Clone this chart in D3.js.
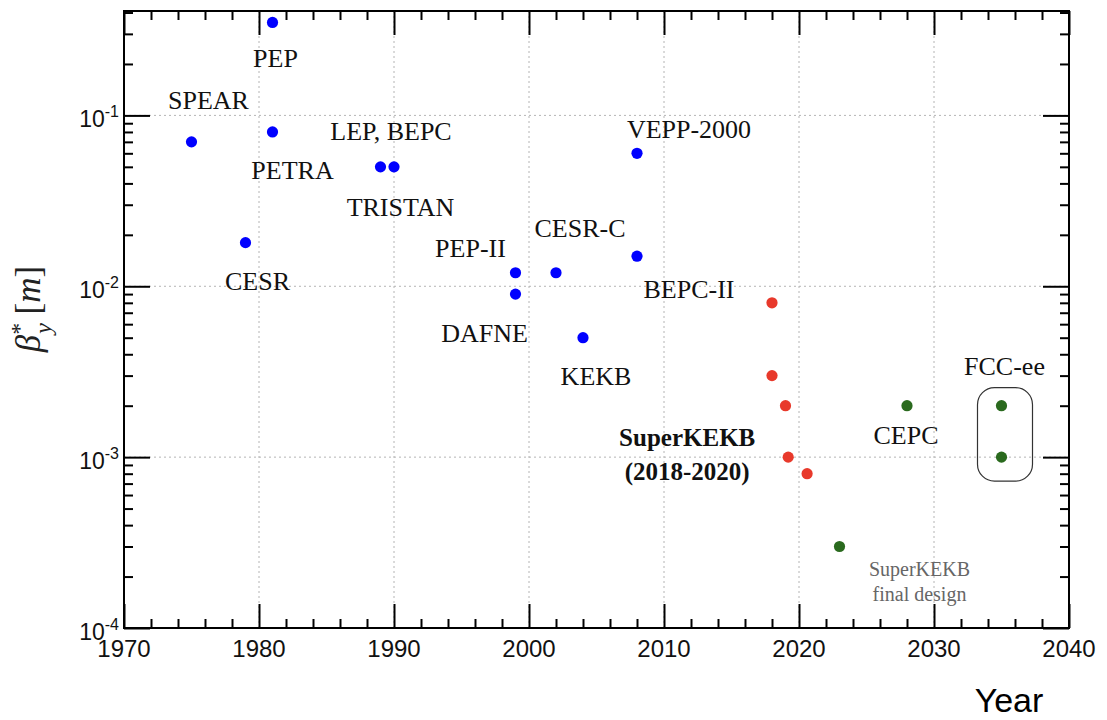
<!DOCTYPE html>
<html><head><meta charset="utf-8">
<script src="https://cdn.jsdelivr.net/npm/d3@7"></script>
<style>body{margin:0;background:#fff}svg{display:block}</style>
</head><body>
<svg id="c" width="1107" height="720"></svg>
<script>
// ---- data ----
const pastNames  = ["SPEAR","PEP","PETRA","CESR","TRISTAN","BEPC","PEP-II","DAFNE","CESR-C","KEKB","VEPP-2000","BEPC-II"];
const pastYears  = [1975, 1981, 1981, 1979, 1989, 1990, 1999, 1999, 2002, 2004, 2008, 2008];
const pastBeta   = [0.07, 0.35, 0.08, 0.018, 0.05, 0.05, 0.012, 0.009, 0.012, 0.005, 0.06, 0.015];
const skbYears   = [2018, 2018, 2019, 2019.2, 2020.6];
const skbBeta    = [0.008, 0.003, 0.002, 0.001, 0.0008];
const futNames   = ["SuperKEKB final", "CEPC", "FCC-ee", "FCC-ee"];
const futYears   = [2023, 2028, 2035, 2035];
const futBeta    = [0.0003, 0.002, 0.002, 0.001];
const xTicks     = [1970, 1980, 1990, 2000, 2010, 2020, 2030, 2040];
const yTickExp   = [-4, -3, -2, -1];

// label layout: offsets (px) from a point
const pastLabels = [
  {t:"SPEAR", i:0, dx:17, dy:-33},
  {t:"PEP", i:1, dx:3, dy:45},
  {t:"PETRA", i:2, dx:20, dy:47},
  {t:"CESR", i:3, dx:12, dy:47},
  {t:"TRISTAN", i:4, dx:20, dy:49},
  {t:"LEP, BEPC", i:5, dx:-3, dy:-27},
  {t:"PEP-II", i:6, dx:-45, dy:-16},
  {t:"DAFNE", i:7, dx:-31, dy:48},
  {t:"CESR-C", i:8, dx:24, dy:-36},
  {t:"KEKB", i:9, dx:13, dy:47},
  {t:"VEPP-2000", i:10, dx:52, dy:-15},
  {t:"BEPC-II", i:11, dx:52, dy:42}
];

const svg = d3.select("#c");
const L = 124, R = 1069, T = 11, B = 628;
const x = d3.scaleLinear().domain([1970, 2040]).range([L, R]);
const y = d3.scaleLog().domain([1e-4, Math.pow(10, -0.389)]).range([B, T]);

const minorX = d3.range(1970, 2041, 2).filter(v => v % 10 !== 0);
const minorY = [];
for (let e = -4; e <= -1; e++) for (let m = 2; m <= 9; m++) { const v = m * Math.pow(10, e); if (v <= y.domain()[1]) minorY.push(v); }
const majorY = yTickExp.map(e => Math.pow(10, e));

// grid
const g = svg.append("g");
g.selectAll(".gx").data(xTicks.slice(1, -1)).join("line")
  .attr("x1", d => x(d)).attr("x2", d => x(d)).attr("y1", T).attr("y2", B)
  .attr("stroke", "#b4b4b4").attr("stroke-width", 1).attr("stroke-dasharray", "2,3");
g.selectAll(".gy").data(majorY.slice(1)).join("line")
  .attr("x1", L).attr("x2", R).attr("y1", d => y(d)).attr("y2", d => y(d))
  .attr("stroke", "#b4b4b4").attr("stroke-width", 1).attr("stroke-dasharray", "2,3");

// axes (ticks inside)
function styleAxis(sel) {
  sel.select(".domain").remove();
  sel.selectAll(".tick line").attr("stroke", "#000").attr("stroke-width", 2);
  sel.selectAll(".tick text").remove();
}
svg.append("g").attr("transform", `translate(0,${B})`).call(d3.axisTop(x).tickValues(xTicks).tickSize(24)).call(styleAxis);
svg.append("g").attr("transform", `translate(0,${B})`).call(d3.axisTop(x).tickValues(minorX).tickSize(9)).call(styleAxis);
svg.append("g").attr("transform", `translate(0,${T})`).call(d3.axisBottom(x).tickValues(xTicks).tickSize(24)).call(styleAxis);
svg.append("g").attr("transform", `translate(0,${T})`).call(d3.axisBottom(x).tickValues(minorX).tickSize(9)).call(styleAxis);
svg.append("g").attr("transform", `translate(${L},0)`).call(d3.axisRight(y).tickValues(majorY).tickSize(26)).call(styleAxis);
svg.append("g").attr("transform", `translate(${L},0)`).call(d3.axisRight(y).tickValues(minorY).tickSize(9)).call(styleAxis);
svg.append("g").attr("transform", `translate(${R},0)`).call(d3.axisLeft(y).tickValues(majorY).tickSize(26)).call(styleAxis);
svg.append("g").attr("transform", `translate(${R},0)`).call(d3.axisLeft(y).tickValues(minorY).tickSize(9)).call(styleAxis);

svg.append("rect").attr("x", L).attr("y", T).attr("width", R - L).attr("height", B - T)
  .attr("fill", "none").attr("stroke", "#000").attr("stroke-width", 2);

// tick labels
svg.selectAll(".xl").data(xTicks).join("text")
  .attr("x", d => x(d)).attr("y", 657).attr("text-anchor", "middle")
  .attr("font-family", "Liberation Sans, Arial, sans-serif").attr("font-size", 24).attr("fill", "#111")
  .text(d => d);
const yl = svg.selectAll(".yl").data(yTickExp).join("text")
  .attr("x", 119).attr("y", d => y(Math.pow(10, d)) + 12).attr("text-anchor", "end")
  .attr("font-family", "Liberation Sans, Arial, sans-serif").attr("font-size", 23).attr("fill", "#111");
yl.append("tspan").text("10");
yl.append("tspan").attr("dy", -10).attr("font-size", 16).text(d => "-" + Math.abs(d));

// axis titles
svg.append("text").attr("x", 1009).attr("y", 712).attr("text-anchor", "middle")
  .attr("font-family", "Liberation Sans, Arial, sans-serif").attr("font-size", 34).attr("fill", "#000").text("Year");
const yt = svg.append("text").attr("transform", "translate(40,309) rotate(-90)").attr("text-anchor", "middle")
  .attr("font-family", "Liberation Serif, serif").attr("font-size", 35).attr("fill", "#222");
yt.append("tspan").attr("font-style", "italic").text("β");
yt.append("tspan").attr("dy", -13).attr("font-size", 24).text("*");
yt.append("tspan").attr("dx", -11).attr("dy", 24).attr("font-size", 24).attr("font-style", "italic").text("y");
yt.append("tspan").attr("dy", -11).text(" [");
yt.append("tspan").attr("font-style", "italic").text("m");
yt.append("tspan").text("]");

// points
const pts = svg.append("g");
pts.selectAll(".p").data(pastYears.map((v, i) => [v, pastBeta[i]])).join("circle")
  .attr("cx", d => x(d[0])).attr("cy", d => y(d[1])).attr("r", 5.6).attr("fill", "#0000ff");
pts.selectAll(".s").data(skbYears.map((v, i) => [v, skbBeta[i]])).join("circle")
  .attr("cx", d => x(d[0])).attr("cy", d => y(d[1])).attr("r", 5.6).attr("fill", "#e8392b");
pts.selectAll(".f").data(futYears.map((v, i) => [v, futBeta[i]])).join("circle")
  .attr("cx", d => x(d[0])).attr("cy", d => y(d[1])).attr("r", 5.6).attr("fill", "#2a6a1e");

// labels
const serif = "Liberation Serif, Times New Roman, serif";
svg.selectAll(".lab").data(pastLabels).join("text")
  .attr("x", d => x(pastYears[d.i]) + d.dx).attr("y", d => y(pastBeta[d.i]) + d.dy)
  .attr("text-anchor", "middle").attr("font-family", serif).attr("font-size", 26).attr("fill", "#111")
  .text(d => d.t);

const sx = x(skbYears[3]), sy = y(skbBeta[3]);
svg.append("text").attr("x", sx - 101).attr("y", sy - 11).attr("text-anchor", "middle")
  .attr("font-family", serif).attr("font-size", 25).attr("font-weight", "bold").attr("fill", "#111").text("SuperKEKB");
svg.append("text").attr("x", sx - 101).attr("y", sy + 23).attr("text-anchor", "middle")
  .attr("font-family", serif).attr("font-size", 25).attr("font-weight", "bold").attr("fill", "#111").text("(2018-2020)");

svg.append("text").attr("x", x(futYears[1]) - 1).attr("y", y(futBeta[1]) + 38).attr("text-anchor", "middle")
  .attr("font-family", serif).attr("font-size", 26).attr("fill", "#111").text("CEPC");
svg.append("text").attr("x", x(futYears[2]) + 3).attr("y", y(futBeta[2]) - 31).attr("text-anchor", "middle")
  .attr("font-family", serif).attr("font-size", 26).attr("fill", "#111").text("FCC-ee");
svg.append("text").attr("x", x(futYears[0]) + 80).attr("y", y(futBeta[0]) + 30).attr("text-anchor", "middle")
  .attr("font-family", serif).attr("font-size", 20).attr("fill", "#666").text("SuperKEKB");
svg.append("text").attr("x", x(futYears[0]) + 80).attr("y", y(futBeta[0]) + 55).attr("text-anchor", "middle")
  .attr("font-family", serif).attr("font-size", 20).attr("fill", "#666").text("final design");

// rounded box around FCC-ee
const fx = x(futYears[2]);
svg.append("rect").attr("x", fx - 24).attr("y", y(futBeta[2]) - 18).attr("width", 55)
  .attr("height", y(futBeta[3]) - y(futBeta[2]) + 42).attr("rx", 17)
  .attr("fill", "none").attr("stroke", "#333").attr("stroke-width", 1.2);
</script>
</body></html>
